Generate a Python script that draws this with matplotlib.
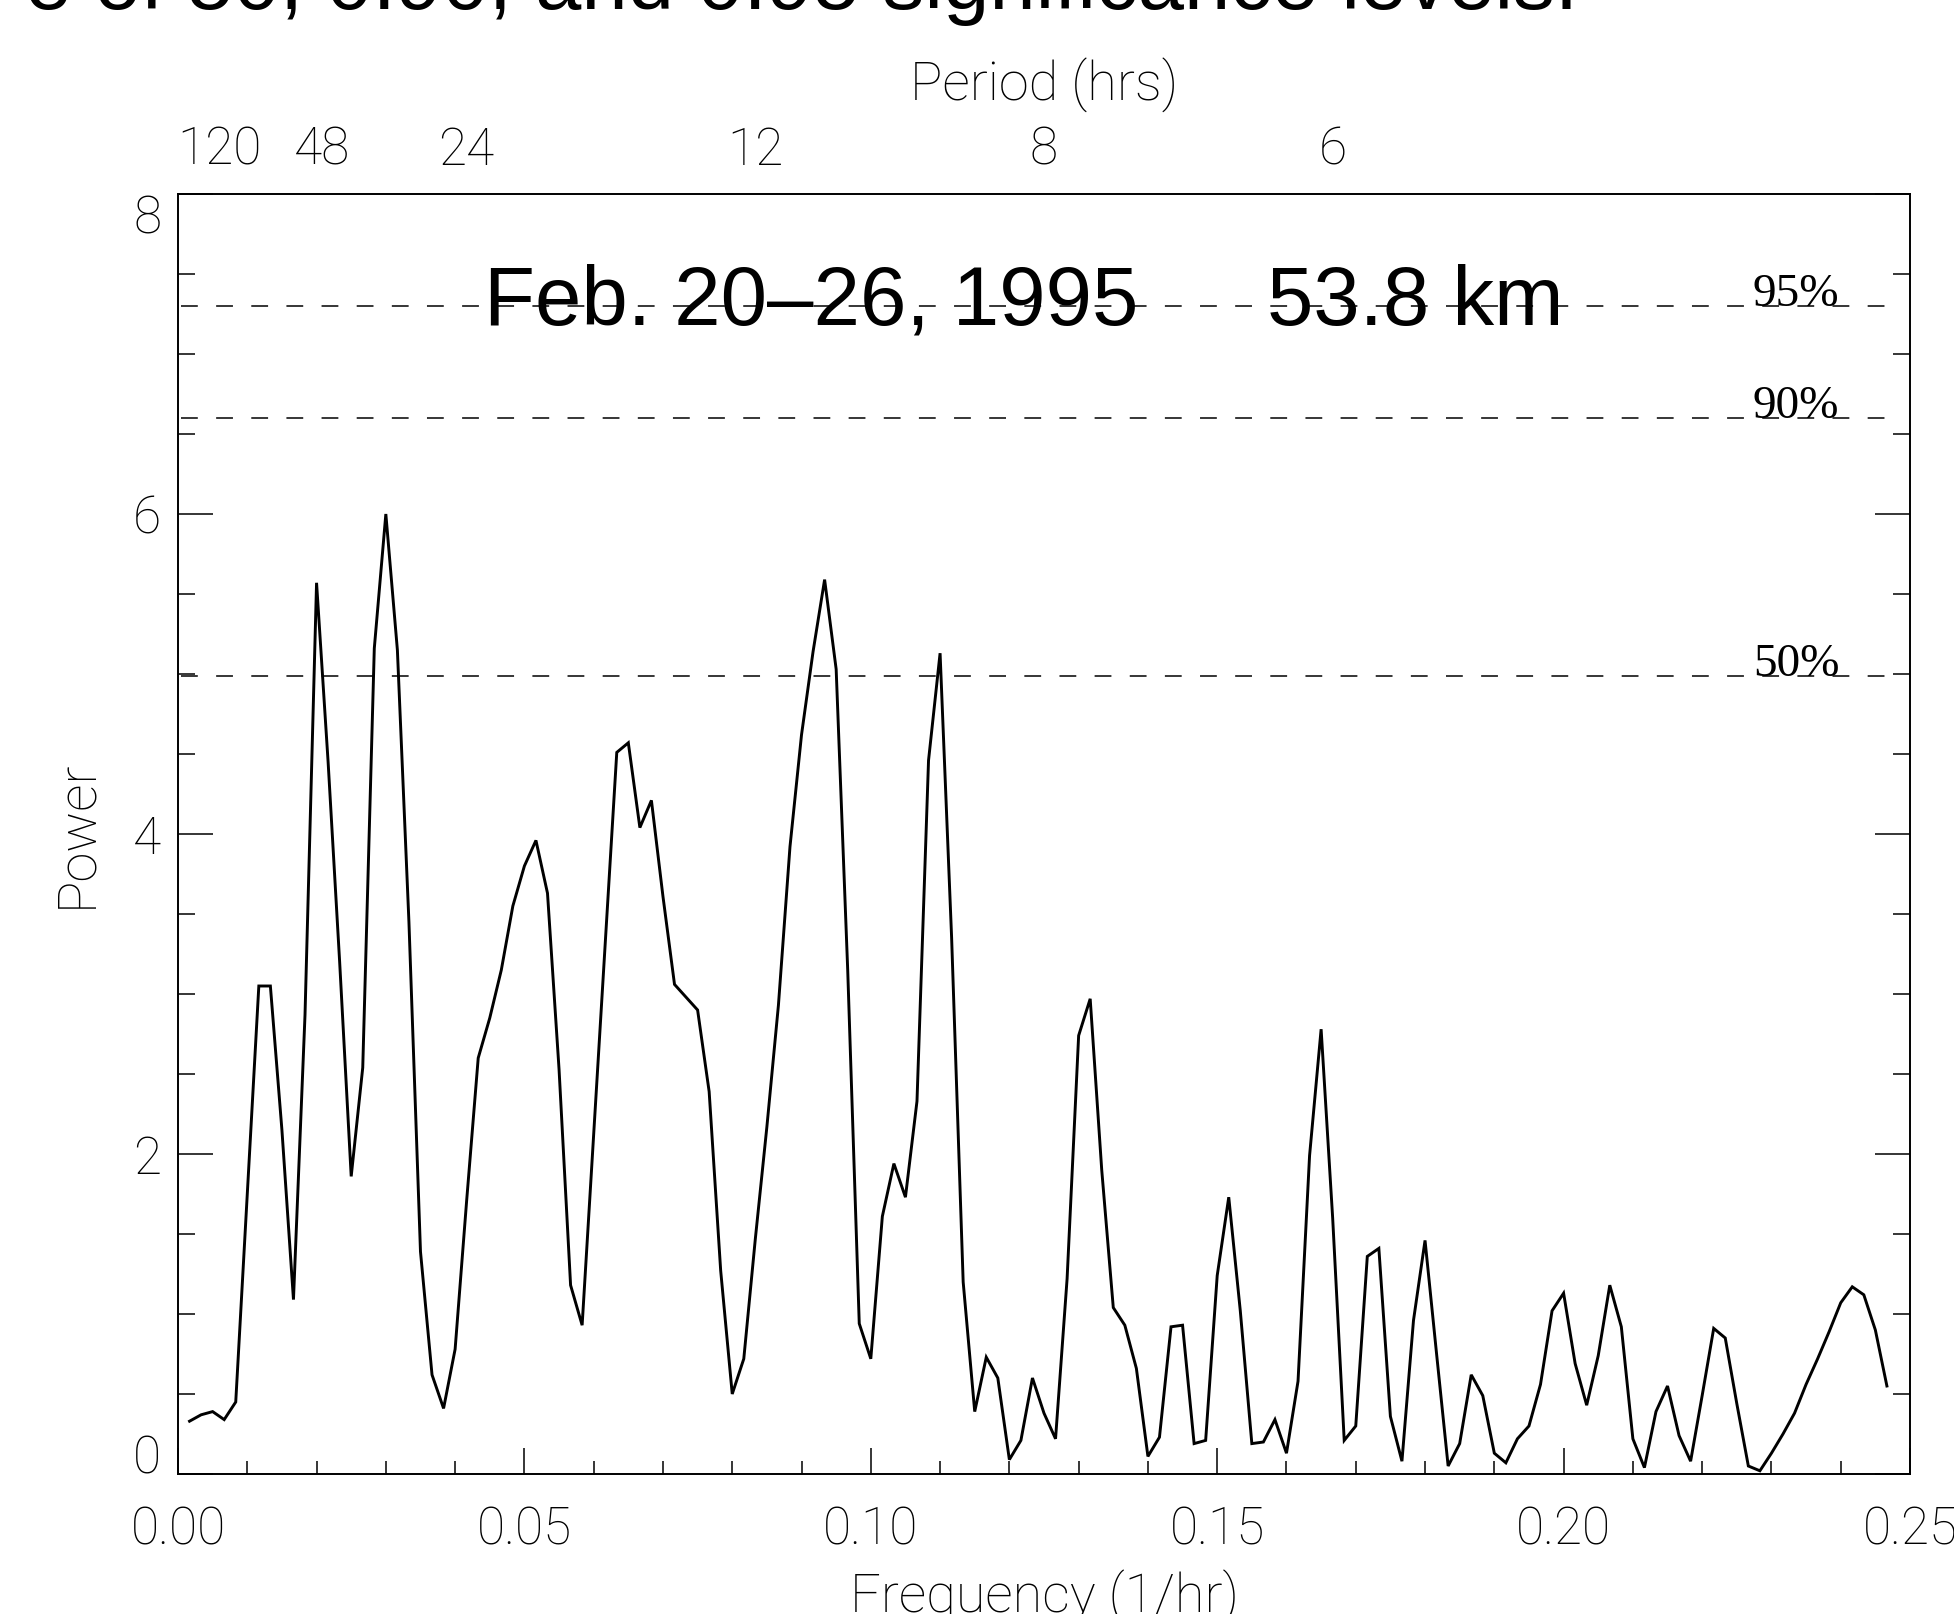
import matplotlib
matplotlib.use("Agg")
import matplotlib.pyplot as plt
import numpy as np

# periodogram power, one value per frequency step of 1/600 per hour
power = [0.33, 0.37, 0.39, 0.34, 0.45, 1.75, 3.05, 3.05, 2.15, 1.09,
         2.87, 5.57, 4.45, 3.20, 1.86, 2.54, 5.16, 6.00, 5.15, 3.45,
         1.39, 0.62, 0.41, 0.78, 1.71, 2.60, 2.85, 3.15, 3.55, 3.80,
         3.96, 3.63, 2.53, 1.18, 0.93, 2.12, 3.32, 4.51, 4.57, 4.04,
         4.21, 3.61, 3.06, 2.98, 2.90, 2.39, 1.27, 0.50, 0.72, 1.47,
         2.17, 2.93, 3.92, 4.62, 5.14, 5.59, 5.03, 3.15, 0.94, 0.72,
         1.61, 1.94, 1.73, 2.33, 4.46, 5.13, 3.35, 1.20, 0.39, 0.73,
         0.60, 0.09, 0.21, 0.60, 0.38, 0.22, 1.22, 2.74, 2.97, 1.90,
         1.04, 0.93, 0.66, 0.11, 0.23, 0.92, 0.93, 0.19, 0.21, 1.24,
         1.73, 1.02, 0.19, 0.20, 0.34, 0.13, 0.58, 1.99, 2.78, 1.60,
         0.21, 0.30, 1.36, 1.41, 0.36, 0.08, 0.96, 1.46, 0.75, 0.05,
         0.19, 0.62, 0.49, 0.13, 0.07, 0.22, 0.30, 0.56, 1.02, 1.13,
         0.69, 0.43, 0.74, 1.18, 0.92, 0.22, 0.04, 0.39, 0.55, 0.24,
         0.08, 0.49, 0.91, 0.85, 0.44, 0.05, 0.02, 0.13, 0.25, 0.38,
         0.56, 0.72, 0.89, 1.07, 1.17, 1.12, 0.90, 0.55]
freq = np.arange(1, len(power) + 1) / 600.0

# significance levels
sig_levels = [7.30, 6.60, 4.99]
sig_labels = ['95%', '90%', '50%']

# top axis (period) labels and where they sit in frequency
period_labels = ['120', '48', '24', '12', '8', '6']
period_freq = [1/168., 1/48., 1/24., 1/12., 1/8., 1/6.]

xticks = [0.0, 0.05, 0.10, 0.15, 0.20, 0.25]
yticks = [0, 2, 4, 6, 8]

tickfont = dict(family='Roboto', weight='light', size=37)
labfont = dict(family='Roboto', weight='light', size=39)

fig = plt.figure(figsize=(19.54, 16.14), dpi=100)
ax = fig.add_axes([178/1954., 140/1614., 1732/1954., 1280/1614.])

ax.plot(freq, power, color='black', lw=2.1, solid_joinstyle='miter')
for lev, lab in zip(sig_levels, sig_labels):
    ax.plot([0.0004, 0.247], [lev, lev], color='black', lw=1.1,
            linestyle=(0, (11, 12)))
    ax.text(0.2273, lev, lab, va='baseline', ha='left',
            family='Liberation Serif', size=34)

ax.text(0.1767, 0.8977, 'Feb. 20\u201326, 1995', transform=ax.transAxes,
        family='Liberation Sans', size=60, va='baseline')
ax.text(0.629, 0.8977, '53.8 km', transform=ax.transAxes,
        family='Liberation Sans', size=60, va='baseline')

ax.set_xlim(0, 0.25)
ax.set_ylim(0, 8)
ax.set_xticks(xticks)
ax.set_xticklabels(['%.2f' % t for t in xticks], fontdict=tickfont)
ax.set_xticks(np.arange(0, 0.2501, 0.01), minor=True)
ax.set_yticks(yticks)
ax.set_yticklabels([str(t) for t in yticks], fontdict=tickfont)
ax.set_yticks(np.arange(0, 8.01, 0.5), minor=True)

ax.tick_params(which='both', direction='in', top=True, right=True,
               width=1.1, color='black')
ax.xaxis.set_tick_params(which='major', length=18.4, pad=23)
ax.xaxis.set_tick_params(which='minor', length=9.2)
ax.yaxis.set_tick_params(which='major', length=24.9, pad=12)
ax.yaxis.set_tick_params(which='minor', length=12.5)
for sp in ax.spines.values():
    sp.set_linewidth(1.4)

ylabs = ax.get_yticklabels()
ylabs[0].set_va('baseline')
ylabs[-1].set_va('top')

ax.set_xlabel('Frequency (1/hr)', fontdict=labfont, labelpad=10)
ax.set_ylabel('Power', fontdict=labfont, labelpad=22)

ax2 = ax.twiny()
ax2.set_xlim(0, 0.25)
ax2.set_xticks(period_freq)
ax2.set_xticklabels(period_labels, fontdict=tickfont)
ax2.tick_params(axis='x', length=0, pad=13)
ax2.set_xlabel('Period (hrs)', fontdict=labfont, labelpad=18)
for sp in ax2.spines.values():
    sp.set_visible(False)

fig.text(1578/1954., 1 - 9/1614., 'e of 50, 0.90, and 0.95 significance levels.',
         ha='right', va='baseline', family='Liberation Sans', size=60)

fig.savefig('out.png', dpi=100)
